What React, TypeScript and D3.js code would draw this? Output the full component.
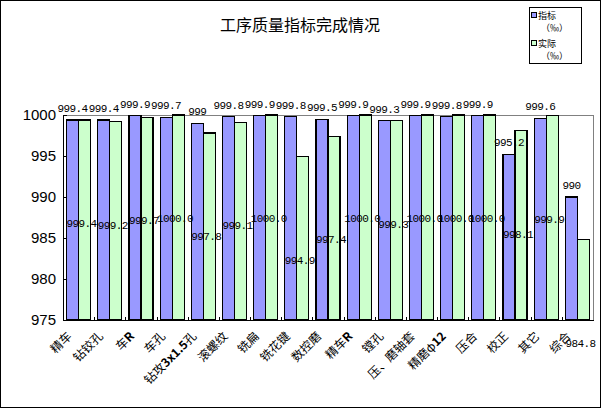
import * as d3 from "d3";

const categories = [
  "精车", "钻铰孔", "车R", "车孔", "钻攻3x1.5孔", "滚螺纹", "铣扁", "铣花键", "数控磨",
  "精车R", "镗孔", "压、磨轴套", "精磨φ12", "压合", "校正", "其它", "综合",
];
const targetValues = [
  999.4, 999.4, 999.9, 999.7, 999, 999.8, 999.9, 999.8, 999.5, 999.9, 999.3, 999.9, 999.8,
  999.9, 995.2, 999.6, 990,
];
const actualValues = [
  999.4, 999.2, 999.7, 1000.0, 997.8, 999.1, 1000.0, 994.9, 997.4, 1000.0, 999.3, 1000.0,
  1000.0, 1000.0, 998.1, 999.9, 984.8,
];
const yTicks = [975, 980, 985, 990, 995, 1000];
const seriesKeys = ["target", "actual"];
const seriesNames = ["指标", "实际"];
const unitLabel = "（‰）";
const title = "工序质量指标完成情况";

const W = 601;
const H = 408;
const plot = { left: 63, right: 593, top: 115, bottom: 320 };
const colors: Record<string, string> = { target: "#9999FF", actual: "#CCFFCC" };
const monoFont = "'Liberation Mono', 'DejaVu Sans Mono', monospace";
const cjkFont = "'Noto Sans CJK SC', sans-serif";

// latin / digit runs in the category names are drawn bold, like the original
function splitLabel(s: string) {
  return s.split(/([A-Za-z0-9.]+)/).filter((p) => p.length > 0);
}

export default function App() {
  const x = d3
    .scaleBand<string>()
    .domain(categories)
    .range([plot.left, plot.right])
    .paddingInner(0.23)
    .paddingOuter(0.115);
  const sub = d3.scaleBand<string>().domain(seriesKeys).range([0, x.bandwidth()]);
  const y = d3.scaleLinear().domain([975, 1000]).range([plot.bottom, plot.top]);

  const rows = categories.map((c, i) => ({
    c,
    target: targetValues[i]!,
    actual: actualValues[i]!,
  }));

  const boundaries = d3.range(1, categories.length).map((i) => plot.left + i * x.step());
  const bw = sub.bandwidth();

  return (
    <svg
      width={W}
      height={H}
      style={{ position: "fixed", left: 0, top: 0, background: "#fff" }}
      shapeRendering="crispEdges"
    >
      <rect x={0.5} y={0.5} width={W - 1} height={H - 1} fill="#fff" stroke="#000" />

      {/* title */}
      <text x={300} y={31} textAnchor="middle" fontSize={16} fontFamily={cjkFont} fill="#000">
        {title}
      </text>

      {/* plot frame */}
      <rect
        x={plot.left + 0.5}
        y={plot.top + 0.5}
        width={plot.right - plot.left}
        height={plot.bottom - plot.top}
        fill="#fff"
        stroke="#808080"
      />

      {/* bars */}
      {rows.map((r) =>
        seriesKeys.map((k) => {
          const v = r[k as "target" | "actual"];
          return (
            <rect
              key={r.c + k}
              x={x(r.c)! + sub(k)!}
              y={y(v)}
              width={bw}
              height={plot.bottom - y(v)}
              fill={colors[k]}
              stroke="#000"
              strokeWidth={1.2}
            />
          );
        })
      )}

      {/* axes */}
      <line x1={plot.left + 0.5} x2={plot.left + 0.5} y1={plot.top} y2={plot.bottom + 1} stroke="#000" />
      <line x1={plot.left} x2={plot.right + 1} y1={plot.bottom + 0.5} y2={plot.bottom + 0.5} stroke="#000" />
      {yTicks.map((t) => (
        <g key={t}>
          <line x1={plot.left} x2={plot.left + 4} y1={y(t) + 0.5} y2={y(t) + 0.5} stroke="#000" />
          <text
            x={56}
            y={y(t)}
            dy="0.36em"
            textAnchor="end"
            fontSize={15}
            fontFamily="'Liberation Sans', Arial, sans-serif"
            fill="#000"
          >
            {t}
          </text>
        </g>
      ))}
      {boundaries.map((bx) => (
        <line key={bx} x1={bx + 0.5} x2={bx + 0.5} y1={plot.bottom - 3} y2={plot.bottom} stroke="#000" />
      ))}

      {/* category labels */}
      {categories.map((c) => {
        const cx = x(c)! + x.bandwidth() / 2;
        return (
          <text
            key={c}
            transform={`translate(${cx - 6},${337}) rotate(-45)`}
            textAnchor="end"
            fontSize={12}
            fontFamily={cjkFont}
            fill="#000"
            shapeRendering="auto"
          >
            {splitLabel(c).map((p, j) => (
              <tspan key={j} fontWeight={/[A-Za-z0-9]/.test(p) ? "bold" : "normal"}>
                {p}
              </tspan>
            ))}
          </text>
        );
      })}

      {/* data labels */}
      {rows.map((r) => (
        <text
          key={"t" + r.c}
          x={x(r.c)! + sub("target")! + bw / 2}
          y={y(r.target) - 8}
          textAnchor="middle"
          fontSize={11}
          letterSpacing={-0.6}
          fontFamily={monoFont}
          fill="#000"
        >
          {String(r.target)}
        </text>
      ))}
      {rows.map((r) => (
        <text
          key={"a" + r.c}
          x={x(r.c)! + x.bandwidth() / 2 + 3}
          y={y(r.actual) + 107}
          textAnchor="middle"
          fontSize={11}
          letterSpacing={-0.6}
          fontFamily={monoFont}
          fill="#000"
        >
          {d3.format(".1f")(r.actual)}
        </text>
      ))}

      {/* legend */}
      <rect x={529.5} y={7.5} width={52} height={56} fill="#fff" stroke="#000" />
      {seriesKeys.map((k, i) => (
        <g key={k} transform={`translate(0,${i * 28})`}>
          <rect x={531.5} y={12.5} width={5} height={5} fill={colors[k]} stroke="#000" />
          <text x={538} y={18.5} fontSize={9} fontFamily={cjkFont} fill="#000">
            {seriesNames[i]}
          </text>
          <text x={541} y={30.5} fontSize={9} fontFamily={cjkFont} fill="#000">
            {unitLabel}
          </text>
        </g>
      ))}
    </svg>
  );
}
